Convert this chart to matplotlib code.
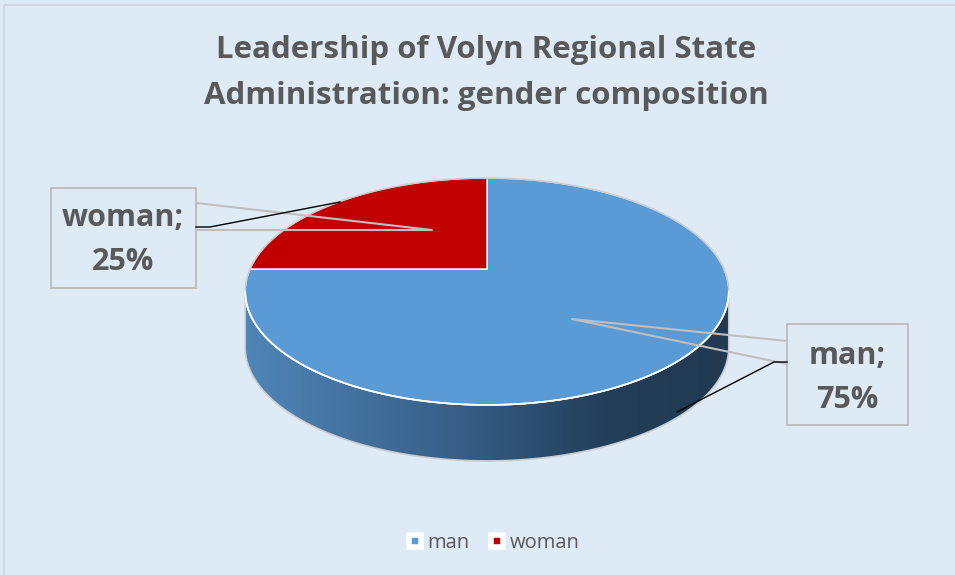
import matplotlib.pyplot as plt
import matplotlib.colors as mcolors
from matplotlib.patches import Polygon, Rectangle
from matplotlib.lines import Line2D
import numpy as np

# data
categories = ['man', 'woman']
shares = [75, 25]
slice_colors = ['#5B9BD5', '#C00000']
title = 'Leadership of Volyn Regional State\nAdministration: gender composition'

W, H = 955, 575
fig = plt.figure(figsize=(W / 100, H / 100), dpi=100)
fig.patch.set_facecolor('#DEEAF6')
ax = fig.add_axes([0, 0, 1, 1])
ax.set_xlim(0, W)
ax.set_ylim(H, 0)
ax.axis('off')

# chart border (light gray, clipped at right/bottom like the source)
ax.add_patch(Rectangle((4, 5), W + 20, H + 20, fill=False, ec='#D0D7DF', lw=1.5))

# perspective pie geometry (pixels)
cx, cy = 487, 269
A, B, k = 237, 109, 0.198
depth = 56


def proj(t, dy=0):
    u, v = np.cos(t), np.sin(t)
    return cx + A * u / (1 + k * v), cy - B * v / (1 + k * v) + dy


# side band (front visible part)
t0 = np.pi + np.arcsin(k)
t1 = 2 * np.pi - np.arcsin(k)
ts = np.linspace(t0, t1, 300)
xt, yt = proj(ts)
xb, yb = proj(ts[::-1], depth)
side = np.column_stack([np.r_[xt, xb], np.r_[yt, yb]])
side_poly = Polygon(side, closed=True, fc='none', ec='#C8CCD0', lw=1.2, zorder=2)
ax.add_patch(side_poly)
cmap = mcolors.LinearSegmentedColormap.from_list(
    'side', [(0, '#5085B8'), (0.45, '#365E86'), (0.75, '#233E59'), (1, '#213A52')])
grad = np.linspace(0, 1, 256).reshape(1, -1)
im = ax.imshow(grad, cmap=cmap, aspect='auto', zorder=1,
               extent=(xt.min(), xt.max(), yb.max() + 2, yt.min() - 2))
clip = Polygon(side, closed=True, transform=ax.transData)
im.set_clip_path(clip)

# top face wedges: start at 12 o'clock, clockwise
start = np.pi / 2
for cat, val, col in zip(categories, shares, slice_colors):
    sweep = 2 * np.pi * val / sum(shares)
    tt = np.linspace(start, start - sweep, 200)
    px, py = proj(tt)
    pts = np.column_stack([np.r_[cx, px], np.r_[cy, py]])
    ax.add_patch(Polygon(pts, closed=True, fc=col, ec='white', lw=1.0, zorder=3))
    start -= sweep

# outlines
ta = np.linspace(0, 2 * np.pi, 400)
ox, oy = proj(ta)
ax.plot(ox, oy, color='#C8CCD0', lw=1.2, zorder=4)
fx, fy = proj(ts)
ax.plot(fx, fy, color='white', lw=1.2, zorder=4)

# data labels with leader lines
txt_kw = dict(fontsize=22, fontweight='bold', color='#595959', ha='center',
              va='center', linespacing=1.65, family=['Open Sans', 'DejaVu Sans'], zorder=6)
ax.add_patch(Rectangle((51, 188), 145, 100, fc='none', ec='#BFBFBF', lw=1.5, zorder=5))
ax.text(123, 240, f'{categories[1]};\n{shares[1]}%', **txt_kw)
ax.plot([196, 432, 196], [203, 230, 230], color='#BFBFBF', lw=1.5, zorder=5)
ax.plot([196, 210, 340], [227, 227, 202], color='black', lw=1.0, zorder=5)

ax.add_patch(Rectangle((787, 324), 121, 101, fc='none', ec='#BFBFBF', lw=1.5, zorder=5))
ax.text(847, 378, f'{categories[0]};\n{shares[0]}%', **txt_kw)
ax.plot([787, 572, 787], [341, 319, 364], color='#BFBFBF', lw=1.5, zorder=5)
ax.plot([787, 774, 677], [362, 362, 412], color='black', lw=1.0, zorder=5)

# title
fig.text(486 / W, 1 - 73 / H, title, ha='center', va='center', fontsize=22.5,
         fontweight='bold', color='#595959', linespacing=1.68,
         family=['Open Sans', 'DejaVu Sans'])

# legend
handles = [Line2D([], [], ls='none', marker='s', markersize=9, markerfacecolor=c,
                  markeredgecolor='white', markeredgewidth=4) for c in slice_colors]
fig.legend(handles, categories, loc='center', bbox_to_anchor=(493 / W, 1 - 543 / H),
           ncol=2, frameon=False, labelcolor='#595959',
           handlelength=0.8, handletextpad=0.2, columnspacing=1.0,
           prop={'family': ['Open Sans', 'DejaVu Sans'], 'size': 14.5})

fig.savefig('out.png', dpi=100, facecolor=fig.get_facecolor())
